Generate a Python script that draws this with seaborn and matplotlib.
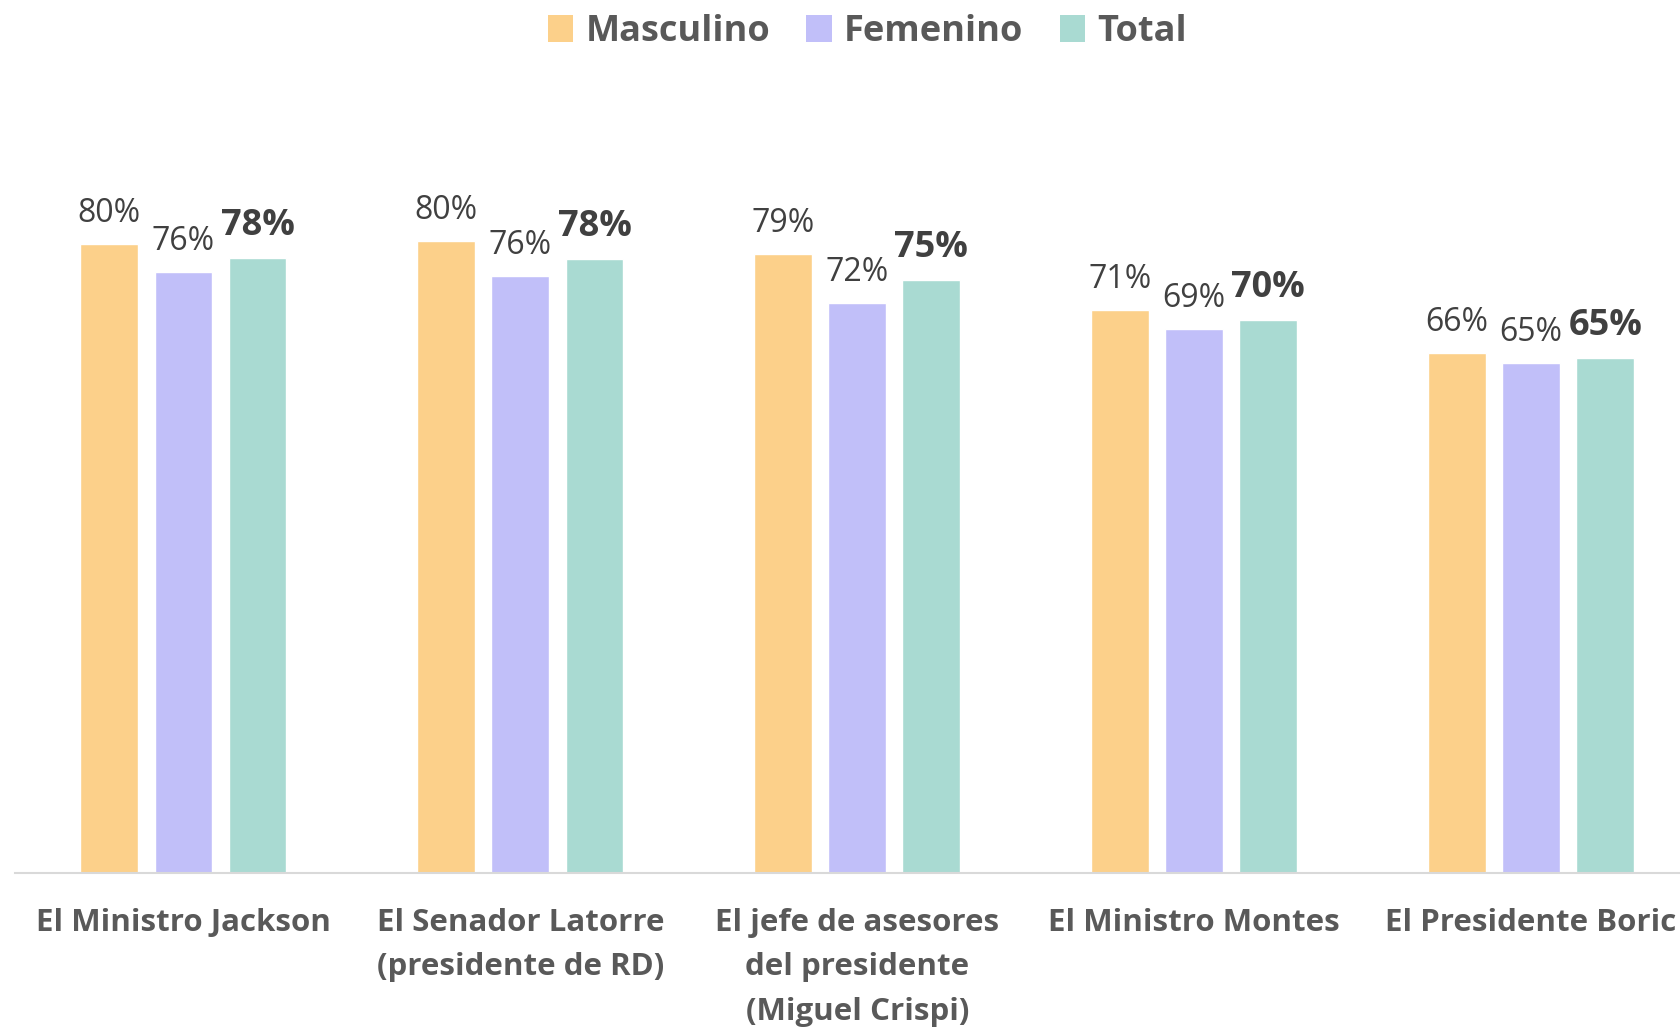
import numpy as np
import pandas as pd
import matplotlib
matplotlib.use("Agg")
import matplotlib.pyplot as plt
import seaborn as sns
from matplotlib.patches import Patch

# datos
categorias = [
    "El Ministro Jackson",
    "El Senador Latorre\n(presidente de RD)",
    "El jefe de asesores\ndel presidente\n(Miguel Crispi)",
    "El Ministro Montes",
    "El Presidente Boric",
]
series = ["Masculino", "Femenino", "Total"]
masculino = [80.0, 80.4, 78.8, 71.6, 66.2]
femenino = [76.5, 76.0, 72.5, 69.2, 64.9]
total = [78.2, 78.1, 75.5, 70.4, 65.5]
etiq_masculino = ["80%", "80%", "79%", "71%", "66%"]
etiq_femenino = ["76%", "76%", "72%", "69%", "65%"]
etiq_total = ["78%", "78%", "75%", "70%", "65%"]
colores = ["#FCD08A", "#C1BFF9", "#A9DAD2"]

df = pd.DataFrame({
    "categoria": categorias * 3,
    "serie": np.repeat(series, len(categorias)),
    "valor": masculino + femenino + total,
})

sns.set_style("white")
plt.rcParams["font.family"] = ["Open Sans", "DejaVu Sans"]

fig = plt.figure(figsize=(16.81, 10.32), dpi=100)
ax = fig.add_axes([15 / 1681, 0.1541, 1 - 15 / 1681, 0.9157 - 0.1541])

sns.barplot(data=df, x="categoria", y="valor", hue="serie", hue_order=series,
            order=categorias, palette=colores, width=0.66, gap=0.22,
            saturation=1, legend=False, ax=ax)

# etiquetas de valor (Total en negrita)
etiquetas = [etiq_masculino, etiq_femenino, etiq_total]
for i, cont in enumerate(ax.containers):
    bold = series[i] == "Total"
    ax.bar_label(cont, labels=etiquetas[i],
                 padding=10, fontsize=26 if bold else 23,
                 fontweight="bold" if bold else "normal", color="#404040")

ax.set_xlim(-0.5, 4.445)
ax.set_ylim(0, 100)
ax.set_xlabel("")
ax.set_ylabel("")
ax.set_yticks([])
for s in ["top", "right", "left"]:
    ax.spines[s].set_visible(False)
ax.spines["bottom"].set_color("#D9D9D9")
ax.spines["bottom"].set_linewidth(1.5)
ax.tick_params(axis="x", length=0, pad=25)
for lbl in ax.get_xticklabels():
    lbl.set_fontsize(22.5)
    lbl.set_fontweight("bold")
    lbl.set_color("#595959")
    lbl.set_linespacing(1.63)

handles = [Patch(facecolor=c, edgecolor="none") for c in colores]
fig.legend(handles, series, loc="center", bbox_to_anchor=(0.516, 0.969), ncol=3,
           frameon=False, prop={"size": 26, "weight": "bold"}, labelcolor="#595959",
           handlelength=0.7, handleheight=0.8, handletextpad=0.35,
           columnspacing=1.0)

fig.savefig("out.png", dpi=100)
